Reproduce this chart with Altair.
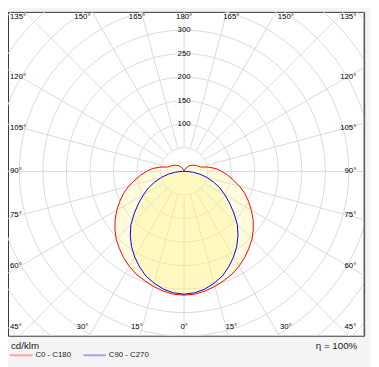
import math
import altair as alt
import pandas as pd

# ---- data (cd/klm) ----
gamma = [0, 5, 10, 15, 20, 25, 30, 35, 40, 45, 50, 55, 60, 65, 70, 75, 80, 85, 90,
         95, 100, 105, 110, 115, 120, 125, 130, 135, 140, 145, 150, 155, 160, 170, 180]
c0_c180 = [263, 262, 258, 253, 247, 241, 233, 224, 214, 204, 192, 179, 165, 151, 137, 122, 106, 93, 80,
           68, 52, 36, 32, 29, 26, 23, 20, 17, 14, 11, 8, 5, 3, 1, 0]
c90_c270 = [261, 259, 254, 246, 237, 224, 210, 195, 178, 160, 138, 118, 100, 84, 67, 50, 34, 18, 4,
            0, 0, 0, 0, 0, 0, 0, 0, 0, 0, 0, 0, 0, 0, 0, 0]
ring_values = [50, 100, 150, 200, 250, 300, 350, 400, 450, 500]
ring_labels = [100, 150, 200, 250, 300]
spoke_angles = list(range(0, 360, 15))
top_labels = [165, 150, 180, 150, 165]
top_sides = [-1, -1, 0, 1, 1]
bottom_labels = [15, 30, 0, 15, 30]
bottom_sides = [-1, -1, 0, 1, 1]
side_labels = [135, 120, 105, 90, 75, 60, 45]
legend_names = ["C0 - C180", "C90 - C270"]

# ---- layout ----
PX = 0.481            # pixels per cd/klm
W, H = 364, 331
CX, CY = 180, 163
xdom = [-CX / PX, (W - CX) / PX]
ydom = [-(H - CY) / PX, CY / PX]
X = lambda f: alt.X(f, type="quantitative", scale=alt.Scale(domain=xdom, nice=False, zero=False), axis=None)
Y = lambda f: alt.Y(f, type="quantitative", scale=alt.Scale(domain=ydom, nice=False, zero=False), axis=None)

def polar(r, g, side=1):
    a = math.radians(g)
    return side * r * math.sin(a), -r * math.cos(a)

def loop(values):
    rows = []
    i = 0
    for g, r in zip(gamma, values):
        x, y = polar(r, g, 1)
        rows.append({"x": x, "y": y, "o": i}); i += 1
    for g, r in zip(reversed(gamma), reversed(values)):
        x, y = polar(r, g, -1)
        rows.append({"x": x, "y": y, "o": i}); i += 1
    return pd.DataFrame(rows)

red_df = loop(c0_c180)
blue_df = loop(c90_c270)

# grid rings
ring_rows = []
for r in ring_values:
    for k in range(0, 361, 2):
        x, y = polar(r, k)
        ring_rows.append({"x": x, "y": y, "r": r, "o": k})
ring_df = pd.DataFrame(ring_rows)

spoke_rows = []
for a in spoke_angles:
    for j, r in enumerate([50, 700]):
        x, y = polar(r, a)
        spoke_rows.append({"x": x, "y": y, "a": a, "o": j})
spoke_df = pd.DataFrame(spoke_rows)

GRID = "#d9d9d9"
rings = alt.Chart(ring_df).mark_line(color=GRID, strokeWidth=1, clip=True).encode(
    x=X("x"), y=Y("y"), detail="r:N", order="o:Q")
spokes = alt.Chart(spoke_df).mark_line(color=GRID, strokeWidth=1, clip=True).encode(
    x=X("x"), y=Y("y"), detail="a:N", order="o:Q")

FILL = "#fff38a"
red_fill = alt.Chart(red_df).mark_line(fill=FILL, fillOpacity=0.3, strokeWidth=0, clip=True).encode(
    x=X("x"), y=Y("y"), order="o:Q")
blue_fill = alt.Chart(blue_df).mark_line(fill=FILL, fillOpacity=0.33, strokeWidth=0, clip=True).encode(
    x=X("x"), y=Y("y"), order="o:Q")
red_line = alt.Chart(red_df).mark_line(color="#ff0000", strokeWidth=1, clip=True).encode(
    x=X("x"), y=Y("y"), order="o:Q")
blue_line = alt.Chart(blue_df).mark_line(color="#0000ff", strokeWidth=1, clip=True).encode(
    x=X("x"), y=Y("y"), order="o:Q")

# labels
FS = 8
FONT = "Liberation Sans"
TOP_Y = (CY - 5) / PX
BOT_Y = -(322 - CY) / PX
top_df = pd.DataFrame({
    "x": [s * 180 / PX * math.tan(math.radians(180 - v)) for v, s in zip(top_labels, top_sides)],
    "y": [TOP_Y] * len(top_labels),
    "t": [f"{v}°" for v in top_labels]})
bot_df = pd.DataFrame({
    "x": [s * 180 / PX * math.tan(math.radians(v)) for v, s in zip(bottom_labels, bottom_sides)],
    "y": [BOT_Y] * len(bottom_labels),
    "t": [f"{v}°" for v in bottom_labels]})
side_y = []
for v in side_labels:
    if v == 135:
        side_y.append(TOP_Y)
    elif v == 45:
        side_y.append(BOT_Y)
    else:
        side_y.append(-167 / PX / math.tan(math.radians(v)) if v != 90 else 0.0)
left_df = pd.DataFrame({"x": [(2 - CX) / PX] * len(side_labels), "y": side_y,
                        "t": [f"{v}°" for v in side_labels]})
right_df = pd.DataFrame({"x": [(356 - CX) / PX] * len(side_labels), "y": side_y,
                         "t": [f"{v}°" for v in side_labels]})
rl_df = pd.DataFrame({"x": [0] * len(ring_labels), "y": ring_labels, "t": [str(v) for v in ring_labels]})

def txt(df, align):
    return alt.Chart(df).mark_text(font=FONT, fontSize=FS, color="#000", align=align, baseline="middle").encode(
        x=X("x"), y=Y("y"), text="t:N")

labels = [txt(top_df, "center"), txt(bot_df, "center"), txt(left_df, "left"),
          txt(right_df, "right"), txt(rl_df, "center")]

one = pd.DataFrame({"a": [0]})
right_border = alt.Chart(one).mark_rule(color="#a0a0a0", strokeWidth=1).encode(
    x=alt.value(W - 0.5), y=alt.value(0), y2=alt.value(H))
legend = [
    alt.Chart(one).mark_text(text="cd/klm", font=FONT, fontSize=10, color="#222", align="left", baseline="middle").encode(
        x=alt.value(3), y=alt.value(342)),
    alt.Chart(one).mark_text(text="η = 100%", font=FONT, fontSize=10, color="#222", align="right", baseline="middle").encode(
        x=alt.value(357), y=alt.value(342)),
    alt.Chart(one).mark_rule(color="#ff9f9f", strokeWidth=2).encode(
        x=alt.value(2), x2=alt.value(25), y=alt.value(351)),
    alt.Chart(one).mark_text(text=legend_names[0], font=FONT, fontSize=FS, color="#222", align="left", baseline="middle").encode(
        x=alt.value(28), y=alt.value(351)),
    alt.Chart(one).mark_rule(color="#a0a0ff", strokeWidth=2).encode(
        x=alt.value(77), x2=alt.value(100), y=alt.value(351)),
    alt.Chart(one).mark_text(text=legend_names[1], font=FONT, fontSize=FS, color="#222", align="left", baseline="middle").encode(
        x=alt.value(103), y=alt.value(351)),
]

chart = alt.layer(rings, spokes, red_fill, blue_fill, red_line, blue_line, *labels, right_border, *legend).properties(
    width=W, height=H, autosize=alt.AutoSizeParams(type="none"),
    padding={"left": 0, "top": 0, "right": 7, "bottom": 28},
    background="#f4f4f4",
).configure_view(fill="white", stroke="#333", strokeWidth=1)

chart.save("out.html", embed_options={"renderer": "svg", "actions": False})
